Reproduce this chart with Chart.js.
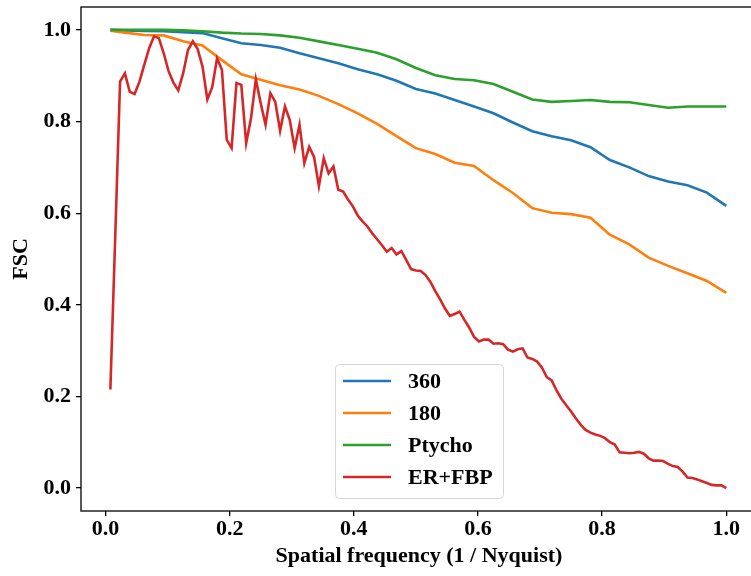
<!DOCTYPE html>
<html>
<head>
<meta charset="utf-8">
<title>FSC</title>
<script src="https://cdn.jsdelivr.net/npm/chart.js@4.4.0/dist/chart.umd.min.js"></script>
<style>
  html, body { margin: 0; padding: 0; background: #fff; overflow: hidden; }
  #wrap { width: 762px; height: 576px; }
</style>
</head>
<body>
<div id="wrap"><canvas id="fscChart" width="762" height="576"></canvas></div>
<script>
// Frequency bins, x = bin / 128 (1 / Nyquist)
var nBins = 128;
var erFbpBins = Array.from({ length: nBins }, function (_, k) { return k + 1; });
var smoothBins = [1, 4, 8, 12, 16, 20, 24, 28, 32, 36, 40, 44, 48, 52, 56, 60, 64,
  68, 72, 76, 80, 84, 88, 92, 96, 100, 104, 108, 112, 116, 120, 124, 128];

var fsc360 = [1.000, 0.999, 0.998, 0.997, 0.995, 0.993, 0.982, 0.971, 0.967, 0.961, 0.949,
  0.938, 0.927, 0.914, 0.903, 0.889, 0.871, 0.861, 0.847, 0.833, 0.818, 0.798, 0.779,
  0.768, 0.759, 0.744, 0.716, 0.700, 0.681, 0.669, 0.661, 0.645, 0.616];
var fsc180 = [0.998, 0.994, 0.989, 0.988, 0.975, 0.966, 0.934, 0.903, 0.891, 0.879, 0.870,
  0.856, 0.838, 0.818, 0.795, 0.768, 0.742, 0.729, 0.710, 0.703, 0.672, 0.644, 0.611,
  0.601, 0.598, 0.590, 0.553, 0.532, 0.503, 0.485, 0.469, 0.452, 0.426];
var fscPtycho = [1.000, 1.000, 1.000, 1.000, 0.999, 0.997, 0.994, 0.992, 0.991, 0.988, 0.983,
  0.975, 0.967, 0.959, 0.950, 0.936, 0.917, 0.901, 0.893, 0.890, 0.882, 0.865, 0.848,
  0.843, 0.845, 0.847, 0.843, 0.842, 0.836, 0.830, 0.833, 0.833, 0.833];
var fscErFbp = [
  0.215, 0.548, 0.887, 0.905, 0.865, 0.860, 0.887, 0.924, 0.960, 0.986, 0.982, 0.949, 0.910, 0.885, 0.868, 0.905,
  0.956, 0.975, 0.958, 0.920, 0.848, 0.875, 0.938, 0.913, 0.760, 0.742, 0.884, 0.880, 0.753, 0.807, 0.892, 0.840,
  0.793, 0.862, 0.843, 0.780, 0.833, 0.803, 0.742, 0.793, 0.709, 0.745, 0.723, 0.659, 0.720, 0.687, 0.702, 0.651,
  0.647, 0.630, 0.615, 0.595, 0.582, 0.571, 0.556, 0.543, 0.530, 0.516, 0.524, 0.510, 0.517, 0.498, 0.478, 0.475,
  0.474, 0.465, 0.450, 0.430, 0.412, 0.392, 0.376, 0.380, 0.385, 0.367, 0.350, 0.330, 0.320, 0.324, 0.324, 0.315,
  0.316, 0.314, 0.302, 0.298, 0.303, 0.305, 0.285, 0.282, 0.276, 0.263, 0.242, 0.235, 0.213, 0.195, 0.181, 0.167,
  0.152, 0.138, 0.127, 0.121, 0.117, 0.114, 0.109, 0.100, 0.095, 0.078, 0.077, 0.076, 0.077, 0.079, 0.075, 0.065,
  0.060, 0.060, 0.059, 0.053, 0.048, 0.046, 0.036, 0.023, 0.022, 0.019, 0.015, 0.011, 0.007, 0.006, 0.006, 0.000
];

var tickValues = [0.0, 0.2, 0.4, 0.6, 0.8, 1.0];
var legendOrder = ["360", "180", "Ptycho", "ER+FBP"];

var FONT = "'Liberation Serif', 'Times New Roman', serif";

function toPoints(bins, values) {
  return bins.map(function (b, i) { return { x: b / nBins, y: values[i] }; });
}

function lineSet(label, bins, values, color, order) {
  return {
    label: label,
    data: toPoints(bins, values),
    borderColor: color,
    backgroundColor: color,
    borderWidth: 2.6,
    pointRadius: 0,
    tension: 0,
    fill: false,
    order: order
  };
}

// frame (matplotlib spines) + legend box inside the axes
var frameAndLegend = {
  id: "frameAndLegend",
  afterDraw: function (chart) {
    var ctx = chart.ctx, a = chart.chartArea;
    ctx.save();
    ctx.strokeStyle = "#000";
    ctx.lineWidth = 1.3;
    ctx.strokeRect(a.left, a.top, a.right - a.left, a.bottom - a.top);

    var x0 = 335.5, y0 = 364.5, w = 168, h = 134, r = 4;
    ctx.beginPath();
    ctx.moveTo(x0 + r, y0);
    ctx.arcTo(x0 + w, y0, x0 + w, y0 + h, r);
    ctx.arcTo(x0 + w, y0 + h, x0, y0 + h, r);
    ctx.arcTo(x0, y0 + h, x0, y0, r);
    ctx.arcTo(x0, y0, x0 + w, y0, r);
    ctx.closePath();
    ctx.fillStyle = "rgba(255,255,255,0.8)";
    ctx.fill();
    ctx.strokeStyle = "#d6d6d6";
    ctx.lineWidth = 1;
    ctx.stroke();

    ctx.font = "bold 22px " + FONT;
    ctx.textBaseline = "middle";
    ctx.textAlign = "left";
    legendOrder.forEach(function (label, k) {
      var ds = chart.data.datasets.filter(function (d) { return d.label === label; })[0];
      var y = 381 + k * 32;
      ctx.strokeStyle = ds.borderColor;
      ctx.lineWidth = 2.6;
      ctx.beginPath();
      ctx.moveTo(343, y);
      ctx.lineTo(391, y);
      ctx.stroke();
      ctx.fillStyle = "#000";
      ctx.fillText(label, 408, y + 1);
    });
    ctx.restore();
  }
};

var axisTicks = function (scale) {
  scale.ticks = tickValues.map(function (v) { return { value: v }; });
};

new Chart(document.getElementById("fscChart"), {
  type: "line",
  data: {
    datasets: [
      lineSet("360", smoothBins, fsc360, "#1f77b4", 3),
      lineSet("180", smoothBins, fsc180, "#ff7f0e", 2),
      lineSet("Ptycho", smoothBins, fscPtycho, "#2ca02c", 1),
      lineSet("ER+FBP", erFbpBins, fscErFbp, "#d62728", 0)
    ]
  },
  options: {
    responsive: false,
    animation: false,
    layout: { padding: { top: 7, right: 5, left: 0, bottom: 0 } },
    plugins: {
      legend: { display: false },
      tooltip: { enabled: false }
    },
    scales: {
      x: {
        type: "linear",
        min: -0.0395,
        max: 1.0495,
        afterBuildTicks: axisTicks,
        afterFit: function (scale) {
          scale.height = 65;
          scale.paddingLeft = 0;
          scale.paddingRight = 0;
        },
        border: { display: false },
        grid: { drawOnChartArea: false, drawTicks: true, tickLength: 5, color: "#000", lineWidth: 1.3 },
        ticks: {
          color: "#000",
          padding: 0,
          maxRotation: 0,
          font: { family: FONT, size: 22, weight: "bold" },
          callback: function (v) { return v.toFixed(1); }
        },
        title: {
          display: true,
          text: "Spatial frequency (1 / Nyquist)",
          color: "#000",
          padding: { top: 0, bottom: 6 },
          font: { family: FONT, size: 22, weight: "bold" }
        }
      },
      y: {
        type: "linear",
        min: -0.05,
        max: 1.05,
        afterBuildTicks: axisTicks,
        afterFit: function (scale) {
          scale.width = 81;
          scale.paddingTop = 0;
          scale.paddingBottom = 0;
        },
        border: { display: false },
        grid: { drawOnChartArea: false, drawTicks: true, tickLength: 5, color: "#000", lineWidth: 1.3 },
        ticks: {
          color: "#000",
          padding: 5,
          font: { family: FONT, size: 22, weight: "bold" },
          callback: function (v) { return v.toFixed(1); }
        },
        title: {
          display: true,
          text: "FSC",
          color: "#000",
          padding: { top: 8, bottom: 0 },
          font: { family: FONT, size: 22, weight: "bold" }
        }
      }
    }
  },
  plugins: [frameAndLegend]
});
</script>
</body>
</html>
